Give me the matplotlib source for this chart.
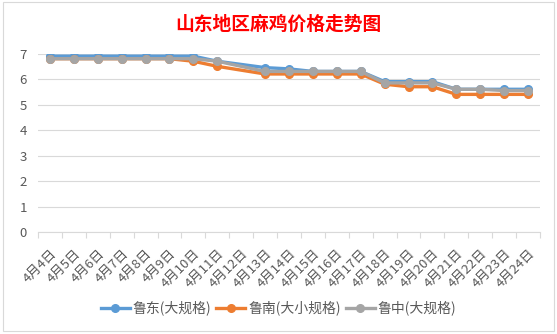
import numpy as np
import matplotlib
matplotlib.use("Agg")
import matplotlib.pyplot as plt
from matplotlib.patches import Rectangle

plt.rcParams['font.family'] = ['Noto Sans CJK SC', 'DejaVu Sans']

title = "山东地区麻鸡价格走势图"
categories = ["4月%d日" % d for d in range(4, 25)]
series_names = ["鲁东(大规格)", "鲁南(大小规格)", "鲁中(大规格)"]
ludong = [6.9, 6.9, 6.9, 6.9, 6.9, 6.9, 6.9, 6.7, None, 6.45, 6.4, 6.3, 6.3, 6.3,
          5.9, 5.9, 5.9, 5.6, 5.6, 5.6, 5.6]
lunan = [6.8, 6.8, 6.8, 6.8, 6.8, 6.8, 6.7, 6.5, None, 6.2, 6.2, 6.2, 6.2, 6.2,
         5.8, 5.7, 5.7, 5.4, 5.4, 5.4, 5.4]
luzhong = [6.8, 6.8, 6.8, 6.8, 6.8, 6.8, 6.8, 6.7, None, 6.3, 6.3, 6.3, 6.3, 6.3,
           5.85, 5.85, 5.85, 5.6, 5.6, 5.55, 5.55]
colors = ["#5B9BD5", "#ED7D31", "#A5A5A5"]

fig = plt.figure(figsize=(5.57, 3.34), dpi=100)
fig.patches.append(Rectangle((3/557, 1-331/334), 551/557, 329/334, transform=fig.transFigure,
                             fill=False, edgecolor="#d9d9d9", linewidth=0.8))
ax = fig.add_axes([38/557, 1-232/334, (540-38)/557, (232-53.6)/334])

for name, vals, c in zip(series_names, [ludong, lunan, luzhong], colors):
    x = [i for i, v in enumerate(vals) if v is not None]
    y = [v for v in vals if v is not None]
    ax.plot(x, y, color=c, linewidth=2.4, marker='o', markersize=5.5,
            label=name, solid_joinstyle='round')

n = len(categories)
ax.set_xlim(-0.5, n - 0.5)
ax.set_ylim(0, 7)
ax.set_yticks(range(0, 8))
ax.yaxis.grid(True, color="#d9d9d9", linewidth=0.8)
ax.set_axisbelow(True)
for s in ['top', 'right', 'left']:
    ax.spines[s].set_visible(False)
ax.spines['bottom'].set_color("#d9d9d9")
ax.spines['bottom'].set_linewidth(0.8)
ax.tick_params(axis='y', length=0, labelsize=9.5, labelcolor="#595959", pad=8)

ax.set_xticks(np.arange(-0.5, n, 1.0))
ax.set_xticklabels([])
ax.tick_params(axis='x', which='major', length=4, color="#d9d9d9", width=0.8)
ax.set_xticks(np.arange(n), minor=True)
ax.set_xticklabels(categories, minor=True, rotation=45, ha='right',
                   rotation_mode='anchor', fontsize=9.5, color="#595959")
ax.tick_params(axis='x', which='minor', length=0, pad=11)

fig.text(0.5, 1 - 24/334, title, ha='center', va='center', fontsize=13.5,
         fontweight='bold', color="#FF0000")

leg = fig.legend(loc='center', bbox_to_anchor=(0.5, 1 - 308/334), ncol=3,
                 frameon=False, fontsize=10, handlelength=2.1, handletextpad=0.2,
                 columnspacing=0.35, labelcolor="#595959")

fig.savefig("out.png", dpi=100)
